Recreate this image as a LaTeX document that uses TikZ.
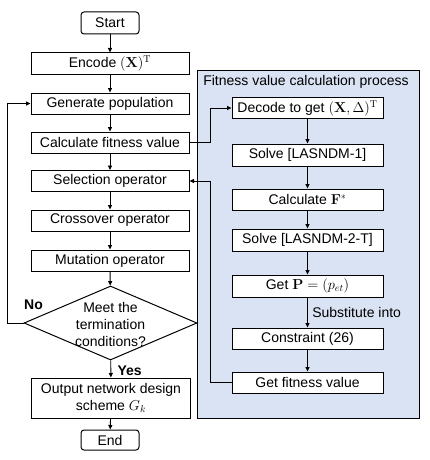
\documentclass[tikz,border=0pt]{standalone}
\usepackage[no-math]{fontspec}
\setmainfont{Liberation Sans}
\usetikzlibrary{arrows.meta,shapes.geometric}
\definecolor{panelblue}{RGB}{218,227,243}

\begin{document}
\begin{tikzpicture}[x=1pt,y=-1pt,every node/.style={font=\fontsize{14}{17}\selectfont},
  box/.style={draw,line width=1pt,fill=white,minimum width=158pt,minimum height=21pt,inner sep=1pt},
  rbox/.style={box,minimum width=151pt},
  term/.style={box,rounded corners=3pt,minimum width=58pt},
  flow/.style={-{Triangle[length=4.5pt,width=4pt]},line width=.9pt}]
\useasboundingbox (0,0) rectangle (430,460);
% panel
\filldraw[fill=panelblue,line width=1pt] (197,70) rectangle (419,418);
\node (title) at (306,82) {Fitness value calculation process};
% main loop
\node[term,minimum height=22pt] (start) at (110,23) {Start};
\node[box] (encode) at (110,63.5) {Encode $(\mathbf{X})^{\mathrm{T}}$};
\node[box] (gen) at (110,103.5) {Generate population};
\node[box] (calc) at (110,142.5) {Calculate fitness value};
\node[box] (sel) at (110,181) {Selection operator};
\node[box] (cross) at (110,220.5) {Crossover operator};
\node[box] (mut) at (110,260.5) {Mutation operator};
\node[draw,diamond,line width=1pt,minimum width=173pt,minimum height=74pt,inner sep=0pt] (cond) at (110.5,323) {};
\node[align=center] (condtxt) at (110.5,324) {Meet the\\termination\\conditions?};
\node[box,align=center,minimum width=159pt,minimum height=40pt] (out) at (111,398) {Output network design\\scheme $G_k$};
\node[term,minimum height=20pt] (end) at (110,440) {End};
% fitness steps
\node[rbox] (decode) at (307.5,108) {Decode to get $(\mathbf{X},\Delta)^{\mathrm{T}}$};
\node[rbox,minimum height=22pt] (solve1) at (307.5,155) {Solve [LASNDM-1]};
\node[rbox] (calcf) at (307.5,199.5) {Calculate $\mathbf{F}^{*}$};
\node[rbox,minimum height=22pt] (solve2) at (307.5,240) {Solve [LASNDM-2-T]};
\node[rbox,minimum height=22pt] (getp) at (307.5,286) {Get $\mathbf{P}=(p_{et})$};
\node[rbox] (constr) at (307.5,338.5) {Constraint (26)};
\node[rbox] (getfit) at (307.5,382.5) {Get fitness value};
% arrows
\draw[flow] (start) -- (encode);
\draw[flow] (encode) -- (gen);
\draw[flow] (gen) -- (calc);
\draw[flow] (calc) -- (sel);
\draw[flow] (sel) -- (cross);
\draw[flow] (cross) -- (mut);
\draw[flow] (mut) -- (cond);
\draw[flow] (cond) -- node[right,xshift=3pt,yshift=-2pt]{\textbf{Yes}} (out);
\draw[flow] (out) -- (end);
\draw[flow] (cond.west) -- ++(-16,0) |- (gen.west);
\node (no) at (33.5,305) {\textbf{No}};
\draw[flow] (calc.east) -- ++(21,0) |- (decode.west);
\draw[flow] (decode) -- (solve1);
\draw[flow] (solve1) -- (calcf);
\draw[flow] (calcf) -- (solve2);
\draw[flow] (solve2) -- (getp);
\draw[flow] (getp) -- node[right,xshift=1pt]{Substitute into} (constr);
\draw[flow] (constr) -- (getfit);
\draw[flow] (getfit.west) -- ++(-21,0) |- (sel.east);
\end{tikzpicture}
\end{document}
